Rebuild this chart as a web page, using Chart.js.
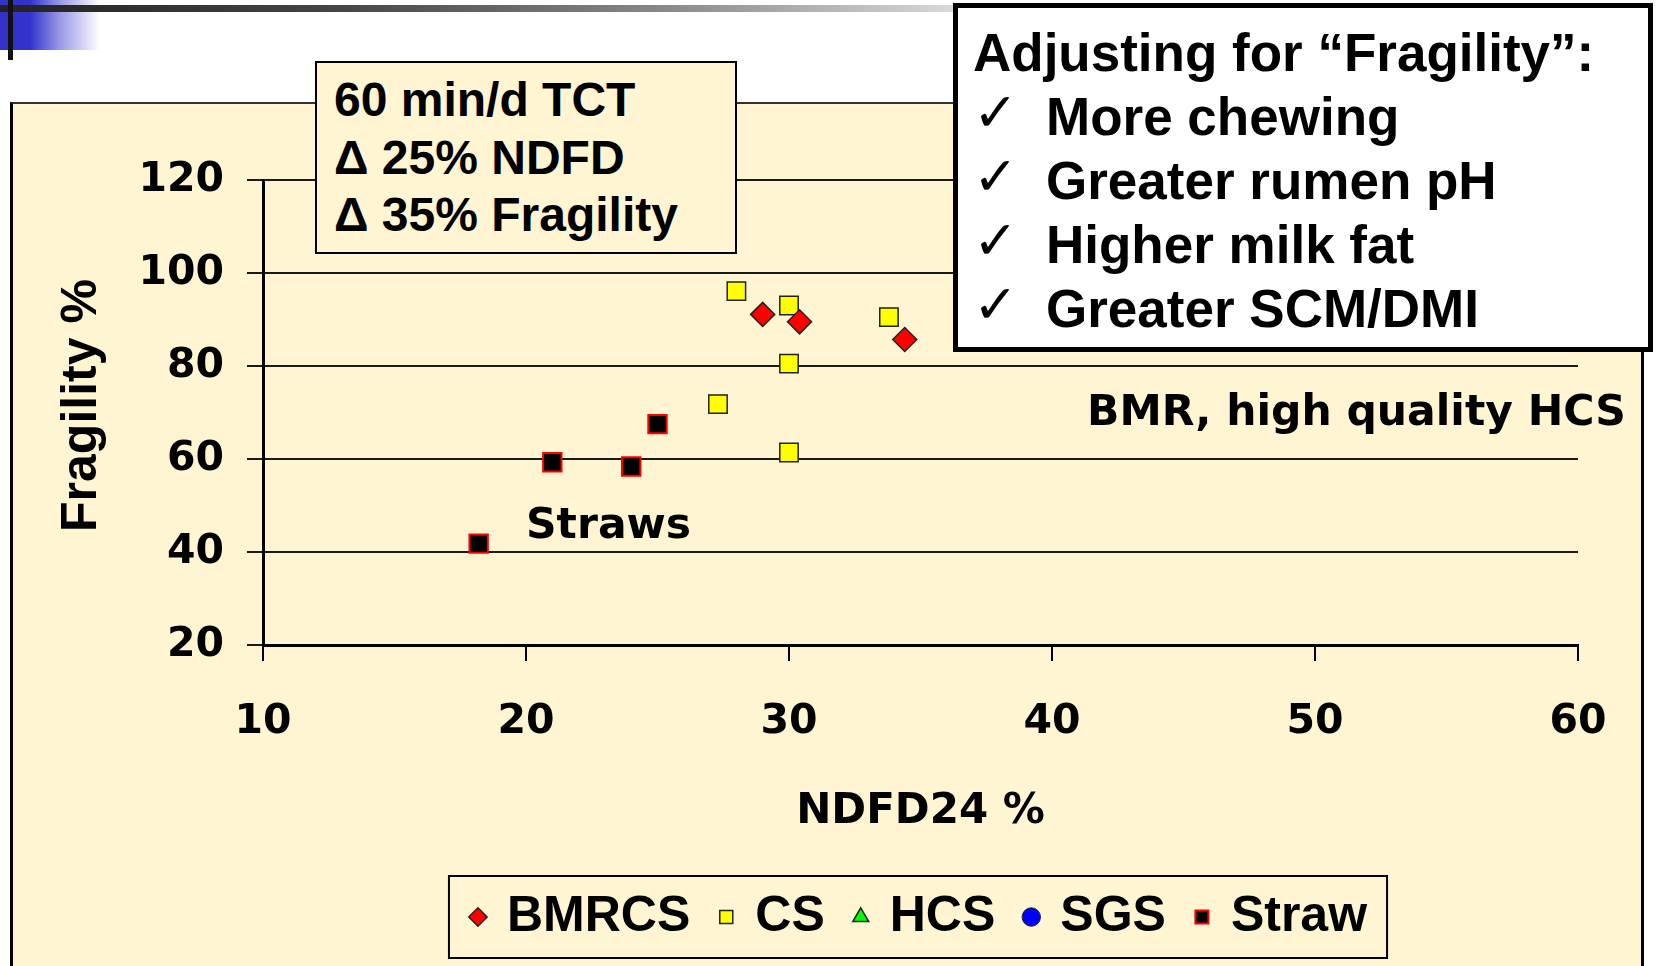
<!DOCTYPE html>
<html>
<head>
<meta charset="utf-8">
<script src="https://cdn.jsdelivr.net/npm/chart.js@4.4.0/dist/chart.umd.min.js"></script>
<style>
  html, body { margin: 0; padding: 0; width: 1656px; height: 966px; overflow: hidden; background: #fff; }
  .abs { position: absolute; }
  #blue { left: 0; top: 0; width: 100px; height: 50px; background: linear-gradient(to right, #3333cc 0%, #3333cc 30%, #9999e6 60%, #fff 100%); }
  #topbar { left: 0; top: 5px; width: 1656px; height: 7px; background: linear-gradient(to right, #222 0%, #444 20%, #888 40%, #ccc 55%, #fff 65%); }
  #vline { left: 8px; top: 0; width: 5px; height: 60px; background: #111; }
  #frame { left: 10px; top: 102px; width: 1634px; height: 900px; background: #fff5d2; border-left: 3px solid #000; border-top: 2px solid #333; border-right: 3px solid #000; box-sizing: border-box; }
  #chart { left: 0; top: 0; }
  .note { font-family: "DejaVu Sans", Verdana, sans-serif; font-weight: bold; font-size: 42.5px; line-height: 43px; color: #000; white-space: nowrap; }
  #tct { left: 315px; top: 61px; width: 422px; height: 193px; box-sizing: border-box; border: 2px solid #000; background: #fff5d2;
         padding: 8px 0 0 17px; font-family: "Liberation Sans", Arial, sans-serif; font-weight: bold; font-size: 48px; line-height: 57.5px; white-space: nowrap; }
  #adjust { left: 953px; top: 3px; width: 700px; height: 349px; box-sizing: border-box; border: 5px solid #000; background: #fff;
            padding: 13px 0 0 15px; font-family: "Liberation Sans", Arial, sans-serif; font-weight: bold; font-size: 53px; line-height: 64px; white-space: nowrap; }
  .chk { display: inline-block; width: 73px; line-height: 40px; vertical-align: 4px; font-family: "DejaVu Serif", serif; font-weight: normal; font-size: 54px; }
</style>
</head>
<body>
<div id="frame" class="abs"></div>
<canvas id="chart" class="abs" width="1656" height="1000"></canvas>
<div class="abs note" style="left:526px; top:502px;">Straws</div>
<div class="abs note" style="left:1087px; top:389px;">BMR, high quality HCS</div>
<div id="tct" class="abs">60 min/d TCT<br>Δ 25% NDFD<br>Δ 35% Fragility</div>
<div id="blue" class="abs"></div>
<div id="topbar" class="abs"></div>
<div id="vline" class="abs"></div>
<div id="adjust" class="abs">Adjusting for “Fragility”:<br><span class="chk">✓</span>More chewing<br><span class="chk">✓</span>Greater rumen pH<br><span class="chk">✓</span>Higher milk fat<br><span class="chk">✓</span>Greater SCM/DMI</div>
<script>
// series names and point values (NDFD24 %, Fragility %)
const seriesNames = ["BMRCS", "CS", "HCS", "SGS", "Straw"];
const bmrcsX = [29.0, 30.4, 34.4];
const bmrcsY = [91.1, 89.5, 85.7];
const csX = [28.0, 30.0, 33.8, 30.0, 27.3, 30.0];
const csY = [96.1, 93.0, 90.5, 80.5, 71.8, 61.4];
const hcsX = [];
const hcsY = [];
const sgsX = [];
const sgsY = [];
const strawX = [25.0, 21.0, 24.0, 18.2];
const strawY = [67.5, 59.3, 58.4, 41.8];
const xTicks = [10, 20, 30, 40, 50, 60];
const yTicks = [20, 40, 60, 80, 100, 120];

const pts = (xs, ys) => xs.map((x, i) => ({ x, y: ys[i] }));

// black frame round the legend, placed from the legend's own hit boxes
const legendFrame = {
  id: "legendFrame",
  afterDraw(chart) {
    const boxes = chart.legend.legendHitBoxes;
    if (!boxes || !boxes.length) return;
    const first = boxes[0];
    const last = boxes[boxes.length - 1];
    const cy = first.top + first.height / 2;
    const left = first.left - 25;
    const right = last.left + last.width + 20;
    const ctx = chart.ctx;
    ctx.save();
    ctx.strokeStyle = "#000";
    ctx.lineWidth = 2;
    ctx.strokeRect(left, cy - 41, right - left, 82);
    ctx.restore();
  }
};

new Chart(document.getElementById("chart"), {
  type: "scatter",
  data: {
    datasets: [
      { label: seriesNames[0], data: pts(bmrcsX, bmrcsY), pointStyle: "rectRot", radius: 12,
        backgroundColor: "#ff0000", borderColor: "#222", borderWidth: 1.5 },
      { label: seriesNames[1], data: pts(csX, csY), pointStyle: "rect", radius: 13,
        backgroundColor: "#ffff00", borderColor: "#222", borderWidth: 1.5 },
      { label: seriesNames[2], data: pts(hcsX, hcsY), pointStyle: "triangle", radius: 11,
        backgroundColor: "#00ff00", borderColor: "#222", borderWidth: 1.5 },
      { label: seriesNames[3], data: pts(sgsX, sgsY), pointStyle: "circle", radius: 9,
        backgroundColor: "#0000ff", borderColor: "#222", borderWidth: 1 },
      { label: seriesNames[4], data: pts(strawX, strawY), pointStyle: "rect", radius: 13,
        backgroundColor: "#000000", borderColor: "#ff0000", borderWidth: 2 }
    ]
  },
  options: {
    responsive: false,
    animation: false,
    events: [],
    layout: { padding: { left: 40, right: 78, top: 180, bottom: 48 } },
    plugins: {
      tooltip: { enabled: false },
      legend: {
        position: "bottom",
        fullSize: false,
        labels: {
          usePointStyle: true,
          boxWidth: 8,
          boxHeight: 13,
          padding: 32,
          color: "#000",
          font: { family: "'Liberation Sans', Arial, sans-serif", weight: "bold", size: 50 }
        }
      }
    },
    scales: {
      x: {
        type: "linear",
        min: xTicks[0],
        max: xTicks[xTicks.length - 1],
        afterBuildTicks: (s) => { s.ticks = xTicks.map((v) => ({ value: v })); },
        afterFit: (s) => { s.height = 215; },
        grid: { drawOnChartArea: false, drawTicks: true, tickLength: 16, color: "#000", lineWidth: 2 },
        border: { display: true, color: "#000", width: 3 },
        ticks: { padding: 37, color: "#000", font: { family: "'DejaVu Sans', Verdana, sans-serif", weight: "bold", size: 41 } },
        title: { display: true, text: "NDFD24 %", color: "#000", padding: { top: 0, bottom: 23 },
                 font: { family: "'DejaVu Sans', Verdana, sans-serif", weight: "bold", size: 42 } }
      },
      y: {
        type: "linear",
        min: yTicks[0],
        max: yTicks[yTicks.length - 1],
        afterBuildTicks: (s) => { s.ticks = yTicks.map((v) => ({ value: v })); },
        afterFit: (s) => { s.width = 223; },
        grid: { drawOnChartArea: true, drawTicks: true, tickLength: 16, color: "#1a1a1a", lineWidth: 2 },
        border: { display: true, color: "#000", width: 3 },
        ticks: { padding: 23, color: "#000", font: { family: "'DejaVu Sans', Verdana, sans-serif", weight: "bold", size: 41 } },
        title: { display: true, text: " Fragility %", color: "#000", padding: { top: 12, bottom: 0 },
                 font: { family: "'Liberation Sans', Arial, sans-serif", weight: "bold", size: 50 } }
      }
    }
  },
  plugins: [legendFrame]
});
</script>
</body>
</html>
